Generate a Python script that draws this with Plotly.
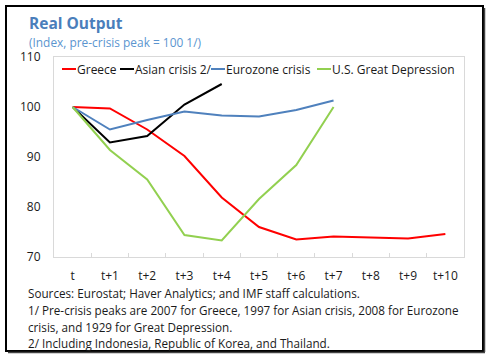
import plotly.graph_objects as go

categories = ["t", "t+1", "t+2", "t+3", "t+4", "t+5", "t+6", "t+7", "t+8", "t+9", "t+10"]
greece = [100.0, 99.7, 95.5, 90.2, 81.9, 76.0, 73.5, 74.1, 73.9, 73.7, 74.6]
asian = [100.0, 92.9, 94.2, 100.5, 104.6, None, None, None, None, None, None]
eurozone = [100.0, 95.5, 97.4, 99.1, 98.3, 98.1, 99.4, 101.3, None, None, None]
us_depression = [100.0, 91.4, 85.5, 74.4, 73.3, 81.6, 88.4, 100.0, None, None, None]

series_names = ["Greece", "Asian crisis 2/", "Eurozone crisis", "U.S. Great Depression"]
series_colors = ["#ff0000", "#000000", "#4f81bd", "#92d050"]
series_values = [greece, asian, eurozone, us_depression]

title_text = "Real Output"
subtitle_text = "(Index, pre-crisis peak = 100 1/)"
footnotes = [
    "Sources: Eurostat; Haver Analytics; and IMF staff calculations.",
    "1/ Pre-crisis peaks are 2007 for Greece, 1997 for Asian crisis, 2008 for Eurozone",
    "crisis, and 1929 for Great Depression.",
    "2/ Including Indonesia, Republic of Korea, and Thailand.",
]

W, H = 490, 362
ML, MR, MT, MB = 54, 26, 57, 105
PW, PH = W - ML - MR, H - MT - MB


def fx(px):
    return (px - ML) / PW


def fy(py):
    return (H - MB - py) / PH


FONT = "Open Sans, Noto Sans, DejaVu Sans, sans-serif"

fig = go.Figure()
for name, color, vals in zip(series_names, series_colors, series_values):
    fig.add_trace(go.Scatter(
        x=categories, y=vals, mode="lines", name=name,
        line=dict(color=color, width=2), showlegend=False, connectgaps=False,
    ))

annotations = []
shapes = []

# title & subtitle
annotations.append(dict(text="<b>" + title_text + "</b>", x=fx(29), y=fy(23), xref="paper", yref="paper",
                        xanchor="left", yanchor="middle", showarrow=False, xshift=-2,
                        font=dict(family=FONT, size=15.5, color="#4a7ebb")))
annotations.append(dict(text=subtitle_text, x=fx(29), y=fy(42), xref="paper", yref="paper",
                        xanchor="left", yanchor="middle", showarrow=False, xshift=-2,
                        font=dict(family=FONT, size=11.9, color="#5b95cf")))

# legend (manual, compact line samples)
legend_x = [62, 120, 211, 317]
for lx, name, color in zip(legend_x, series_names, series_colors):
    shapes.append(dict(type="line", xref="paper", yref="paper", x0=fx(lx), x1=fx(lx + 14),
                       y0=fy(69), y1=fy(69), line=dict(color=color, width=2)))
    annotations.append(dict(text=name, x=fx(lx + 14.5), y=fy(69.5), xref="paper", yref="paper",
                            xanchor="left", yanchor="middle", showarrow=False, xshift=-2,
                            font=dict(family=FONT, size=12, color="#1a1a1a")))

# footnotes
foot_y = [293, 310, 327, 343]
for fy_px, txt in zip(foot_y, footnotes):
    annotations.append(dict(text=txt, x=fx(28), y=fy(fy_px), xref="paper", yref="paper",
                            xanchor="left", yanchor="middle", showarrow=False, xshift=-2,
                            font=dict(family=FONT, size=11.7, color="#1a1a1a")))

# outer frame
shapes.append(dict(type="rect", xref="paper", yref="paper", x0=fx(6), x1=fx(483), y0=fy(351), y1=fy(6),
                   line=dict(color="#000000", width=2)))
shapes.append(dict(type="line", xref="paper", yref="paper", x0=fx(484.5), x1=fx(484.5), y0=fy(352), y1=fy(8),
                   line=dict(color="#444444", width=1.5)))
shapes.append(dict(type="line", xref="paper", yref="paper", x0=fx(8), x1=fx(485), y0=fy(352.5), y1=fy(352.5),
                   line=dict(color="#444444", width=1.5)))

fig.update_layout(
    width=W, height=H,
    margin=dict(l=ML, r=MR, t=MT, b=MB, pad=0),
    paper_bgcolor="white", plot_bgcolor="white",
    font=dict(family=FONT, size=12, color="#1a1a1a"),
    showlegend=False,
    annotations=annotations, shapes=shapes,
)
fig.update_xaxes(
    type="category", categoryorder="array", categoryarray=categories,
    range=[-0.5, 10.5], showgrid=False, zeroline=False,
    showline=True, linecolor="#d9d9d9", linewidth=1, mirror=True,
    ticks="inside", tickson="boundaries", ticklen=4, tickcolor="#d9d9d9",
    tickfont=dict(family=FONT, size=12, color="#1a1a1a"), ticklabelstandoff=8,
)
fig.update_yaxes(
    range=[70, 110], dtick=10, showgrid=False, zeroline=False,
    showline=True, linecolor="#d9d9d9", linewidth=1, mirror=True,
    ticks="", tickfont=dict(family=FONT, size=12, color="#1a1a1a"), ticklabelstandoff=10,
)

fig.write_html(
    "out.html",
    config={"displayModeBar": False},
    post_script="document.body.style.margin='0';document.body.style.overflow='hidden';",
)
